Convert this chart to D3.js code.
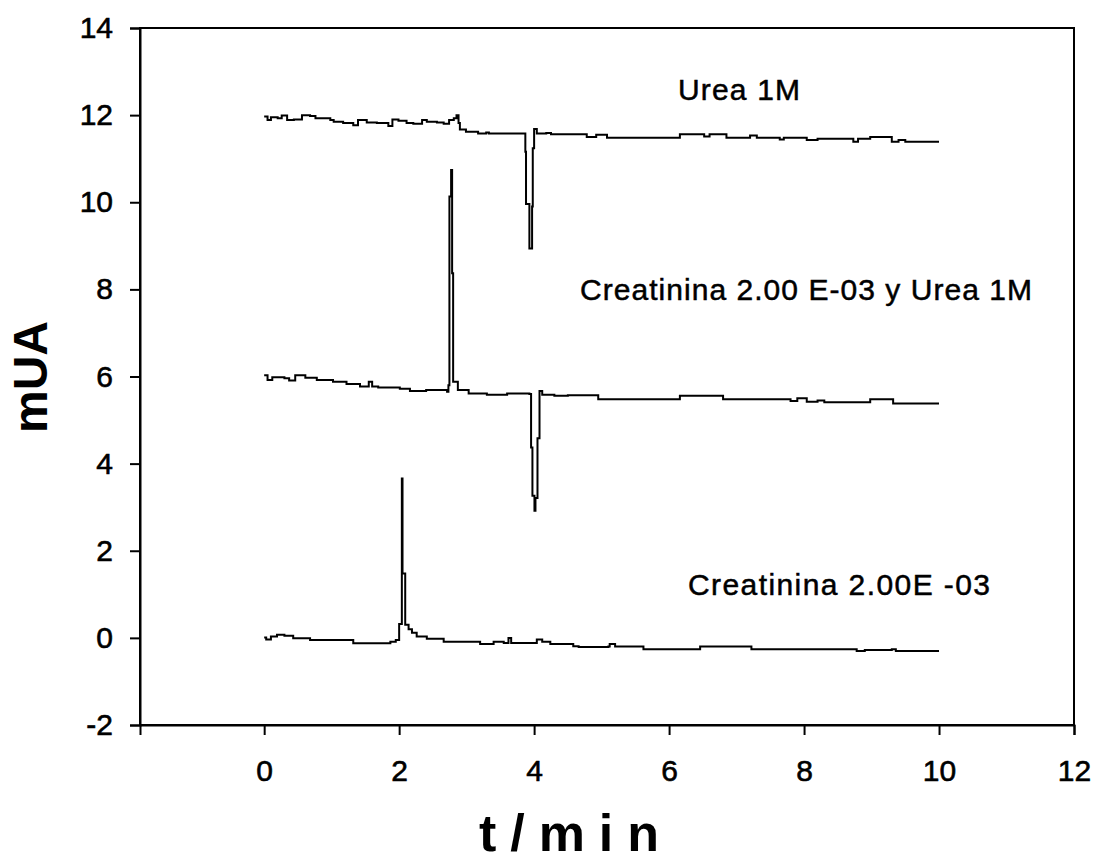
<!DOCTYPE html>
<html>
<head>
<meta charset="utf-8">
<script src="https://cdn.jsdelivr.net/npm/d3@7"></script>
<style>
  html, body { margin: 0; padding: 0; background: #fff; }
  svg text { font-family: "Liberation Sans", Arial, sans-serif; fill: #000; }
</style>
</head>
<body>
<svg id="chart" width="1093" height="861"></svg>
<script>
// Electropherograms: absorbance (mUA) vs migration time (min)
const xTicks = [0, 2, 4, 6, 8, 10, 12];
const yTicks = [-2, 0, 2, 4, 6, 8, 10, 12, 14];

// Urea 1M
const ureaT = [0, 0.05, 0.1, 0.2, 0.26, 0.34, 0.44, 0.56, 0.68, 0.76, 0.98, 1.03, 1.17, 1.32, 1.39, 1.52, 1.67, 1.84, 1.9, 1.99, 2.11, 2.21, 2.34, 2.41, 2.56, 2.66, 2.74, 2.81, 2.85, 2.88, 2.9, 2.99, 3.17, 3.29, 3.33, 3.85, 3.87, 3.88, 3.93, 3.97, 3.98, 4.0, 4.04, 4.18, 4.25, 4.78, 4.92, 5.08, 6.16, 6.52, 6.6, 6.85, 7.2, 7.3, 7.64, 7.7, 8.04, 8.2, 8.6, 8.73, 8.8, 8.98, 9.3, 9.4, 9.5, 9.59, 10.0];
const ureaV = [11.97, 11.89, 11.95, 11.93, 11.99, 11.89, 11.9, 12.0, 11.98, 11.93, 11.89, 11.85, 11.82, 11.77, 11.89, 11.83, 11.82, 11.75, 11.9, 11.87, 11.82, 11.8, 11.89, 11.85, 11.83, 11.8, 11.89, 11.93, 12.0, 11.82, 11.67, 11.62, 11.58, 11.6, 11.58, 11.58, 11.16, 9.96, 8.94, 9.9, 11.24, 11.68, 11.58, 11.59, 11.56, 11.5, 11.55, 11.48, 11.56, 11.51, 11.56, 11.48, 11.53, 11.48, 11.44, 11.48, 11.43, 11.46, 11.46, 11.39, 11.46, 11.5, 11.39, 11.43, 11.39, 11.39, 11.39];

// Creatinina 2.00 E-03 y Urea 1M
const mixT = [0, 0.05, 0.12, 0.3, 0.37, 0.46, 0.61, 0.78, 1.02, 1.22, 1.42, 1.55, 1.6, 1.69, 2.01, 2.16, 2.4, 2.71, 2.73, 2.745, 2.77, 2.785, 2.8, 2.87, 3.03, 3.3, 3.6, 3.93, 3.955, 3.975, 4.005, 4.02, 4.05, 4.08, 4.12, 4.3, 4.5, 4.95, 6.16, 6.8, 7.5, 7.8, 7.9, 8.04, 8.2, 8.3, 8.98, 9.32, 10.0];
const mixV = [6.03, 5.92, 5.98, 5.96, 5.91, 6.03, 5.97, 5.92, 5.88, 5.83, 5.77, 5.88, 5.77, 5.75, 5.72, 5.67, 5.69, 5.65, 5.8, 10.13, 10.74, 8.37, 5.88, 5.69, 5.61, 5.58, 5.61, 5.6, 4.37, 3.26, 2.92, 3.21, 4.58, 5.67, 5.58, 5.56, 5.57, 5.48, 5.56, 5.48, 5.48, 5.44, 5.5, 5.42, 5.45, 5.41, 5.48, 5.38, 5.38];

// Creatinina 2.00E -03
const creaT = [0, 0.03, 0.1, 0.19, 0.3, 0.43, 0.68, 1.32, 1.87, 1.95, 2.0, 2.04, 2.05, 2.09, 2.14, 2.19, 2.26, 2.41, 2.66, 3.2, 3.4, 3.55, 3.62, 3.66, 3.9, 4.04, 4.12, 4.24, 4.58, 4.66, 5.1, 5.12, 5.2, 5.62, 6.46, 7.22, 8.78, 8.9, 9.3, 9.36, 10.0];
const creaV = [0.01, -0.04, 0.03, 0.07, 0.05, -0.01, -0.05, -0.125, -0.09, -0.05, 0.32, 3.66, 1.48, 0.3, 0.2, 0.12, 0.03, -0.02, -0.09, -0.14, -0.09, -0.12, 0.0, -0.12, -0.12, -0.04, -0.09, -0.14, -0.19, -0.21, -0.2, -0.14, -0.2, -0.26, -0.2, -0.26, -0.3, -0.28, -0.26, -0.3, -0.3];

const seriesLabels = ["Urea 1M", "Creatinina 2.00 E-03 y Urea 1M", "Creatinina 2.00E -03"];

const svg = d3.select("#chart");
const margin = { left: 140, top: 28, right: 19, bottom: 136 };
const W = 1093, H = 861;
const x = d3.scaleLinear().domain([-1.84, 12]).range([margin.left, W - margin.right]);
const y = d3.scaleLinear().domain([-2, 14]).range([H - margin.bottom, margin.top]);

// frame
svg.append("rect")
  .attr("x", x.range()[0]).attr("y", y.range()[1])
  .attr("width", x.range()[1] - x.range()[0])
  .attr("height", y.range()[0] - y.range()[1])
  .attr("fill", "none").attr("stroke", "#000").attr("stroke-width", 2);

// axes
const fmt = d => String(d);
const yAxis = d3.axisLeft(y).tickValues(yTicks).tickSize(10).tickPadding(17).tickFormat(fmt);
const gy = svg.append("g").attr("transform", `translate(${x.range()[0]},0)`).call(yAxis);
const xAxis = d3.axisBottom(x).tickValues(xTicks).tickSize(10).tickPadding(25).tickFormat(fmt);
const gx = svg.append("g").attr("transform", `translate(0,${y.range()[0]})`).call(xAxis);
[gx, gy].forEach(g => {
  g.select(".domain").attr("stroke", "#000").attr("stroke-width", 2);
  g.selectAll(".tick line").attr("stroke", "#000").attr("stroke-width", 2);
  g.selectAll(".tick text")
    .attr("font-size", 30)
    .attr("font-family", "'Liberation Sans', Arial, sans-serif")
    .attr("fill", "#000").attr("stroke", "#000").attr("stroke-width", 0.6);
});

// traces
const line = d3.line().x(d => x(d[0])).y(d => y(d[1])).curve(d3.curveStepAfter);
const traces = [
  d3.zip(ureaT, ureaV),
  d3.zip(mixT, mixV),
  d3.zip(creaT, creaV)
];
svg.append("g").selectAll("path").data(traces).join("path")
  .attr("d", line)
  .attr("fill", "none").attr("stroke", "#000").attr("stroke-width", 2)
  .attr("stroke-linejoin", "miter");

// trace labels
const labelPos = [
  { x: 678, y: 100, len: 122 },
  { x: 580, y: 300, len: 452 },
  { x: 688, y: 595, len: 302 }
];
svg.append("g").selectAll("text").data(seriesLabels).join("text")
  .attr("x", (d, i) => labelPos[i].x)
  .attr("y", (d, i) => labelPos[i].y)
  .attr("textLength", (d, i) => labelPos[i].len)
  .attr("lengthAdjust", "spacing")
  .attr("font-size", 30)
  .attr("stroke", "#000").attr("stroke-width", 0.5)
  .text(d => d);

// axis titles
svg.append("text")
  .attr("x", 569).attr("y", 851)
  .attr("text-anchor", "middle")
  .attr("font-size", 52).attr("font-weight", "bold")
  .attr("textLength", 180).attr("lengthAdjust", "spacing")
  .text("t/min");

svg.append("text")
  .attr("transform", "translate(47,377) rotate(-90)")
  .attr("text-anchor", "middle")
  .attr("font-size", 48).attr("font-weight", "bold")
  .text("mUA");
</script>
</body>
</html>
